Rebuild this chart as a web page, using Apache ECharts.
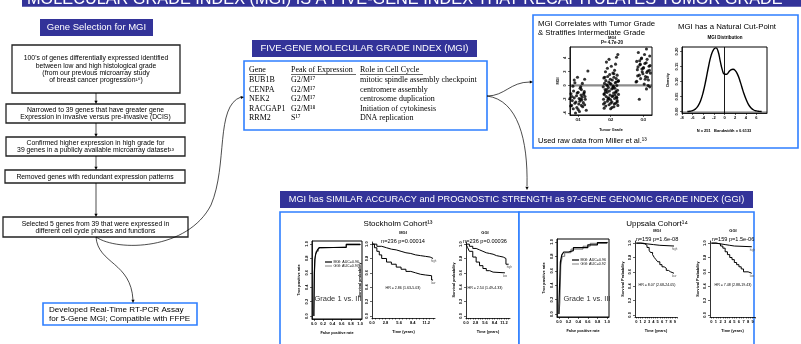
<!DOCTYPE html>
<html>
<head>
<meta charset="utf-8">
<script src="https://cdn.jsdelivr.net/npm/echarts@6/dist/echarts.min.js"></script>
<style>
html, body { margin: 0; padding: 0; background: #fff; }
#chart { width: 801px; height: 344px; }
</style>
</head>
<body>
<div id="chart"></div>
<script>
const FONT = '"Liberation Sans", Arial, sans-serif';
const SERIF = '"Liberation Serif", "Times New Roman", serif';
const NAVY = '#333399';
const BLUE = '#2f7fff';

// MGI by tumor grade: [jitter, MGI]
const gradeLabels = ['G1', 'G2', 'G3'];
const mgiG1 = [
    [-0.12,-1.8],[0.05,-2.3],[0.18,-1.1],[-0.2,-2.9],[0.1,-0.6],[-0.05,-1.5],[0.22,-2.0],[-0.15,-3.4],[0.02,-2.7],[0.14,-3.1],
    [-0.22,-1.2],[0.08,-0.2],[-0.1,0.4],[0.2,0.9],[-0.02,1.2],[0.12,-1.7],[-0.18,-2.2],[0.04,-3.8],[0.25,-3.6],[-0.08,-4.0],
    [0.16,-2.5],[-0.25,-1.9],[0.0,-1.0],[0.09,-1.4],[-0.14,-0.8],[0.2,-2.8],[-0.04,-3.2],[0.11,-2.1],[-0.19,-1.6],[0.06,-0.4],
    [0.3,2.1],[-0.1,-2.6],[0.17,-1.3],[-0.23,-3.0],[0.03,-1.9],[0.13,0.3],[-0.07,-2.4],[0.21,-1.6],[-0.16,-0.1],[0.0,-3.5],
    [0.1,-2.9],[-0.12,0.8],[0.19,-0.9],[-0.03,-1.1],[0.07,-2.0]
];
const mgiG2 = [
    [-0.2,-3.3],[0.1,-3.1],[0.22,-2.9],[-0.05,-2.8],[0.15,-2.6],[-0.18,-2.5],[0.04,-2.4],[-0.1,-2.3],[0.2,-2.2],[0.0,-2.1],
    [-0.22,-2.0],[0.12,-1.9],[-0.08,-1.8],[0.18,-1.7],[-0.14,-1.6],[0.06,-1.5],[-0.02,-1.4],[0.24,-1.3],[-0.2,-1.2],[0.09,-1.1],
    [-0.11,-1.0],[0.16,-0.9],[-0.04,-0.8],[0.21,-0.7],[-0.17,-0.6],[0.03,-0.5],[0.13,-0.4],[-0.07,-0.3],[-0.23,-0.2],[0.08,-0.1],
    [0.19,0.0],[-0.12,0.1],[0.01,0.2],[-0.19,0.3],[0.14,0.4],[-0.06,0.5],[0.23,0.6],[-0.15,0.7],[0.05,0.8],[-0.01,0.9],
    [0.17,1.0],[-0.21,1.1],[0.1,1.2],[-0.09,1.3],[0.2,1.5],[-0.03,1.6],[0.07,1.8],[-0.16,2.0],[0.12,2.2],[-0.1,2.5],
    [0.02,2.8],[0.15,3.1],[-0.13,3.4],[0.18,4.1],[0.22,4.5],[-0.05,3.8],[0.0,-3.4],[-0.15,-3.0],[0.11,-2.7],[0.2,-2.4],
    [-0.08,-2.0],[0.05,-1.6],[-0.2,-1.3],[0.16,-1.0],[-0.12,-0.6],[0.08,-0.2],[-0.02,0.3],[0.24,0.7],[-0.18,1.2],[0.1,1.7],
    [0.0,-2.6],[-0.05,-1.9],[0.13,-1.4],[-0.16,-0.9],[0.07,-0.4],[-0.1,0.0],[0.17,0.5],[-0.22,-2.7],[0.04,-3.2],[0.19,-1.8]
];
const mgiG3 = [
    [0.1,5.3],[-0.15,4.8],[0.2,4.3],[-0.05,4.0],[0.12,3.8],[-0.2,3.5],[0.05,3.2],[-0.1,3.0],[0.18,2.8],[0.0,2.5],
    [-0.18,2.3],[0.14,2.1],[-0.03,2.0],[0.22,1.8],[-0.12,1.5],[0.07,1.3],[-0.08,1.0],[0.16,0.8],[-0.22,0.5],[0.03,0.2],
    [0.2,-0.2],[0.1,-0.5],[-0.12,-2.0],[-0.06,3.9],[0.09,3.3],[-0.16,2.7],[0.19,2.2],[-0.01,1.7],[0.13,1.2],[-0.2,0.6],
    [0.04,4.5],[-0.11,3.6],[0.21,2.9],[-0.04,2.4],[0.11,1.9],[-0.17,1.4],[0.06,0.9],[0.15,0.0],[-0.09,3.1],[0.01,2.6]
];
const mgiCutLine = [[0.75, 0], [3.27, 0]];

// MGI distribution (density)
const densityCurve = [
    [-7,0],[-6.5,0.001],[-6,0.003],[-5.5,0.008],[-5,0.018],[-4.5,0.036],[-4,0.065],[-3.5,0.105],[-3,0.15],[-2.5,0.188],
    [-2,0.208],[-1.6,0.212],[-1.2,0.2],[-0.8,0.168],[-0.4,0.138],[0,0.124],[0.4,0.124],[0.8,0.132],[1.2,0.139],[1.6,0.141],
    [2,0.137],[2.5,0.122],[3,0.097],[3.5,0.068],[4,0.043],[4.5,0.024],[5,0.012],[5.5,0.005],[6,0.002],[6.5,0.0005],[7,0]
];
const densityCutLine = [[0, -0.005], [0, 0.215]];
const densityBaseLine = [[-8, 0], [8, 0]];
const densityTicks = [-8, -6, -4, -2, 0, 2, 4, 6];
const densityYTicks = [0, 0.05, 0.1, 0.15, 0.2];

// ROC curves [false positive rate, true positive rate]
const rocStockMGI = [[0,0],[0,0.05],[0.01,0.05],[0.01,0.55],[0.02,0.55],[0.02,0.78],[0.04,0.78],[0.04,0.86],[0.08,0.86],[0.08,0.92],[0.12,0.92],[0.12,0.95],[0.7,0.95],[0.7,0.99],[1,0.99],[1,1]];
const rocStockGGI = [[0,0],[0.01,0],[0.01,0.6],[0.03,0.6],[0.03,0.82],[0.05,0.82],[0.05,0.9],[0.1,0.9],[0.1,0.94],[0.15,0.94],[0.15,0.96],[0.7,0.96],[0.7,1],[1,1]];
const rocUppMGI = [[0,0],[0,0.12],[0.03,0.12],[0.03,0.72],[0.06,0.72],[0.06,0.82],[0.1,0.82],[0.1,0.86],[0.2,0.86],[0.2,0.88],[0.3,0.88],[0.3,0.92],[0.6,0.92],[0.6,0.96],[0.8,0.96],[0.8,0.99],[1,0.99],[1,1]];
const rocUppGGI = [[0,0],[0.02,0],[0.02,0.15],[0.04,0.15],[0.04,0.68],[0.07,0.68],[0.07,0.8],[0.12,0.8],[0.12,0.85],[0.25,0.85],[0.25,0.9],[0.5,0.9],[0.5,0.94],[0.65,0.94],[0.65,0.98],[1,0.98],[1,1]];
const rocTicks = [0, 0.2, 0.4, 0.6, 0.8, 1];

// Kaplan-Meier curves [years, survival probability]
const kmStockMgiHigh = [[0,1],[1,0.97],[2,0.95],[3,0.93],[4,0.92],[5,0.9],[6,0.88],[7,0.87],[8,0.85],[9,0.84],[10,0.83],[11,0.82],[12,0.8],[12.6,0.8]];
const kmStockMgiLow = [[0,1],[0.5,0.95],[1,0.9],[1.5,0.85],[2,0.8],[3,0.75],[4,0.72],[5,0.68],[6,0.65],[7,0.62],[8,0.6],[9,0.58],[10,0.57],[11,0.56],[12.3,0.5],[12.6,0.5]];
const kmStockGgiHigh = [[0,1],[1,0.97],[2,0.94],[3,0.92],[4,0.9],[5,0.88],[6,0.87],[7,0.86],[8,0.84],[9,0.83],[10,0.82],[11,0.8],[11.8,0.72],[12.6,0.72]];
const kmStockGgiLow = [[0,1],[0.5,0.95],[1,0.9],[2,0.82],[3,0.75],[4,0.7],[5,0.66],[6,0.63],[7,0.61],[8,0.6],[11.5,0.6]];
const kmUppMgiHigh = [[0,1],[1.5,0.99],[2.5,0.98],[4,0.97],[5.5,0.96],[8.8,0.96]];
const kmUppMgiLow = [[0,1],[1,0.99],[2,0.97],[2.5,0.94],[3,0.9],[3.3,0.87],[3.8,0.84],[4.2,0.8],[4.6,0.77],[5,0.74],[5.5,0.7],[6,0.67],[6.5,0.65],[7,0.62],[7.5,0.6],[8,0.58],[8.8,0.58]];
const kmUppGgiHigh = [[0,1],[1,0.99],[2,0.98],[3,0.97],[4,0.96],[5,0.95],[8.8,0.95]];
const kmUppGgiLow = [[0,1],[1,0.99],[2,0.96],[2.5,0.93],[3,0.88],[3.5,0.84],[4,0.8],[4.5,0.77],[5,0.73],[5.5,0.7],[6,0.67],[6.5,0.64],[7,0.6],[8,0.58],[8.8,0.58]];
const stockTimeTicks = [0, 2.8, 5.6, 8.4, 11.2];
const uppTimeTicks = [0, 1, 2, 3, 4, 5, 6, 7, 8, 9];
const survTicks = [0, 0.2, 0.4, 0.6, 0.8, 1];

// five-gene table
const tableGenes = ['BUB1B', 'CENPA', 'NEK2', 'RACGAP1', 'RRM2'];
const tablePeaks = ['G2/M¹⁷', 'G2/M¹⁷', 'G2/M¹⁷', 'G2/M¹⁸', 'S¹⁷'];
const tableRoles = ['mitotic spindle assembly checkpoint', 'centromere assembly', 'centrosome duplication', 'Initiation of cytokinesis', 'DNA replication'];

// ---------- graphic helpers ----------
function txt(x, y, text, size, o) {
    o = o || {};
    const a = o.align || 'left';
    const va = o.va || 'middle';
    return {
        type: 'text', x: x, y: y, z: 20, rotation: o.rot || 0,
        style: {
            text: text, fontSize: size, fontFamily: o.family || FONT,
            fontWeight: o.weight || 'normal', fill: o.color || '#000',
            align: a, textAlign: a, verticalAlign: va, textVerticalAlign: va,
            lineHeight: o.lh || size * 1.1
        }
    };
}
function rect(x, y, w, h, fill, stroke, lw) {
    return {type: 'rect', z: -5, shape: {x: x, y: y, width: w, height: h},
        style: {fill: fill, stroke: stroke || null, lineWidth: lw || 0}};
}
function seg(x1, y1, x2, y2, color, lw) {
    return {type: 'line', z: 5, shape: {x1: x1, y1: y1, x2: x2, y2: y2},
        style: {stroke: color || '#000', lineWidth: lw || 0.8}};
}
function curve(p) {
    return {type: 'bezierCurve', z: 5,
        shape: {x1: p[0], y1: p[1], cpx1: p[2], cpy1: p[3], cpx2: p[4], cpy2: p[5], x2: p[6], y2: p[7]},
        style: {stroke: '#000', fill: null, lineWidth: 0.7}};
}
function head(x, y, ang) {
    const s = 3.2, w = 1.6;
    const c = Math.cos(ang), si = Math.sin(ang);
    const bx = x - c * s, by = y - si * s;
    return {type: 'polygon', z: 6,
        shape: {points: [[x, y], [bx - si * w, by + c * w], [bx + si * w, by - c * w]]},
        style: {fill: '#000'}};
}

const g = [];
// title bar (cut off at the top)
g.push(rect(22, -4, 779, 10.7, NAVY));
g.push(txt(27, 0, 'MOLECULAR GRADE INDEX (MGI) IS A FIVE-GENE INDEX THAT RECAPITULATES TUMOR GRADE', 16.3, {color: '#fff'}));

// gene selection flow
g.push(rect(40, 19, 113, 17, NAVY));
g.push(txt(96.5, 27.5, 'Gene Selection for MGI', 9.5, {align: 'center', color: '#fff'}));
const flowBoxes = [
    [12, 45, 168, 48, "100's of genes differentially expressed identified\nbetween low and high histological grade\n(from our previous microarray study\nof breast cancer progression¹⁶)"],
    [6, 104, 179, 19, 'Narrowed to 39 genes that have greater gene\nExpression in invasive versus pre-invasive (DCIS)'],
    [6, 137, 179, 19, 'Confirmed higher expression in high grade for\n39 genes in a publicly available microarray dataset¹³'],
    [5, 170, 180, 13, 'Removed genes with redundant expression patterns'],
    [3, 217, 185, 20, 'Selected 5 genes from 39 that were expressed in\ndifferent cell cycle phases and functions']
];
flowBoxes.forEach(function (b) {
    g.push(rect(b[0], b[1], b[2], b[3], '#fff', '#222', 1.3));
    g.push(txt(b[0] + b[2] / 2, b[1] + b[3] / 2 + 0.3, b[4], 6.8, {align: 'center', lh: 7.3}));
});
[[93, 104], [123, 137], [156, 170], [183, 217]].forEach(function (s) {
    g.push(seg(96, s[0], 96, s[1] - 2, '#000', 0.7));
    g.push(head(96, s[1], Math.PI / 2));
});
g.push(curve([96, 237, 98, 264, 131, 262, 133, 300]));
g.push(head(133, 303, Math.PI / 2));
g.push(curve([96, 237, 118, 252, 188, 250, 211, 205]));
g.push(curve([211, 205, 228, 165, 215, 106, 241, 97]));
g.push(head(244, 97, -0.15));
g.push(rect(43, 303, 154, 22, '#fff', BLUE, 1.6));
g.push(txt(49, 314.5, 'Developed Real-Time RT-PCR Assay\nfor 5-Gene MGI; Compatible with FFPE', 8.1, {lh: 9}));

// five-gene table
g.push(rect(252, 40, 225, 17, NAVY));
g.push(txt(364.5, 48.5, 'FIVE-GENE MOLECULAR GRADE INDEX (MGI)', 9.5, {align: 'center', color: '#fff'}));
g.push(rect(244, 61, 243, 69, '#fff', BLUE, 1.6));
const colX = [249, 291, 360];
g.push(txt(colX[0], 70, 'Gene', 8, {family: SERIF}));
g.push(txt(colX[1], 70, 'Peak of Expression', 8, {family: SERIF}));
g.push(txt(colX[2], 70, 'Role in Cell Cycle', 8, {family: SERIF}));
g.push(seg(249, 74.5, 266, 74.5, '#000', 0.6));
g.push(seg(291, 74.5, 356, 74.5, '#000', 0.6));
g.push(seg(360, 74.5, 423, 74.5, '#000', 0.6));
tableGenes.forEach(function (gene, i) {
    const y = 80 + i * 9.6;
    g.push(txt(colX[0], y, gene, 8, {family: SERIF}));
    g.push(txt(colX[1], y, tablePeaks[i], 8, {family: SERIF}));
    g.push(txt(colX[2], y, tableRoles[i], 8, {family: SERIF}));
});
g.push(curve([487, 96, 505, 96, 510, 82, 530, 82]));
g.push(head(533, 82, 0));
g.push(curve([487, 96, 518, 100, 528, 140, 527, 186]));
g.push(head(527, 190, Math.PI / 2));

// MGI vs grade box
g.push(rect(533, 15, 265, 133, '#fff', BLUE, 1.6));
g.push(txt(538, 24, 'MGI Correlates with Tumor Grade', 7.8));
g.push(txt(538, 33, '& Stratifies Intermediate Grade', 7.8));
g.push(txt(612, 37.5, 'MGI', 4.2, {align: 'center', weight: 'bold'}));
g.push(txt(612, 43, 'P= 4.7e-20', 4.5, {align: 'center', weight: 'bold'}));
g.push(txt(727, 27, 'MGI has a Natural Cut-Point', 7.8, {align: 'center'}));
g.push(txt(725, 38, 'MGI Distribution', 4.5, {align: 'center', weight: 'bold'}));
g.push(txt(724, 131, 'N = 251   Bandwidth = 0.6133', 4, {align: 'center', weight: 'bold'}));
g.push(txt(538, 141, 'Used raw data from Miller et al.¹³', 7.5));

// bottom section
g.push(rect(280, 191, 473, 17, NAVY));
g.push(txt(516.5, 199.5, 'MGI has SIMILAR ACCURACY and PROGNOSTIC STRENGTH as 97-GENE GENOMIC GRADE INDEX (GGI)', 9.2, {align: 'center', color: '#fff'}));
g.push(rect(280, 212, 239, 150, '#fff', BLUE, 1.6));
g.push(rect(519, 212, 235, 150, '#fff', BLUE, 1.6));
g.push(txt(398, 224, 'Stockholm Cohort¹³', 8, {align: 'center'}));
g.push(txt(657, 224, 'Uppsala Cohort¹⁴', 8, {align: 'center'}));
g.push(txt(338, 299, 'Grade 1 vs. III', 7.5, {align: 'center', color: '#333'}));
g.push(txt(587, 299, 'Grade 1 vs. III', 7.5, {align: 'center', color: '#333'}));
// ROC legends
[[325, 262, 'MGI: AUC=0.96', 'GGI: AUC=0.97'], [572, 260, 'MGI: AUC=0.96', 'GGI: AUC=0.92']].forEach(function (l) {
    g.push(seg(l[0], l[1], l[0] + 7, l[1], '#000', 1.2));
    g.push(seg(l[0], l[1] + 4, l[0] + 7, l[1] + 4, '#666', 0.8));
    g.push(txt(l[0] + 8.5, l[1], l[2], 3.6));
    g.push(txt(l[0] + 8.5, l[1] + 4, l[3], 3.6));
});
// KM headers
[[403, 'MGI', 'n=236 p=0.00014', 'HR = 2.86 (1.63-5.03)', 288],
 [485, 'GGI', 'n=236 p=0.00036', 'HR = 2.54 (1.49-4.33)', 288],
 [657, 'MGI', 'n=159 p=1.6e-08', 'HR = 8.07 (2.68-24.05)', 285],
 [733, 'GGI', 'n=159 p=1.5e-06', 'HR = 7.48 (2.88-19.43)', 285]].forEach(function (k, i) {
    const top = i < 2 ? 233 : 231;
    g.push(txt(k[0], top, k[1], 4, {align: 'center', weight: 'bold'}));
    g.push(txt(k[0], top + 8.5, k[2], 5.6, {align: 'center'}));
    g.push(txt(k[0], k[4], k[3], 3.6, {align: 'center'}));
});

// ---------- axes ----------
const tiny = {fontSize: 4, fontFamily: FONT, fontWeight: 'bold', color: '#000'};
const blackLine = {show: true, onZero: false, lineStyle: {color: '#000', width: 0.8}};
function xAx(gi, min, max, ticks, fmt, name, gap) {
    return {
        gridIndex: gi, type: 'value', min: min, max: max, z: 4,
        axisLine: blackLine,
        axisTick: {show: true, customValues: ticks, length: 2, lineStyle: {color: '#000', width: 0.6}},
        axisLabel: Object.assign({customValues: ticks, formatter: fmt, margin: 3}, tiny),
        splitLine: {show: false},
        name: name, nameLocation: 'middle', nameGap: gap || 11,
        nameTextStyle: {fontSize: 3.8, fontFamily: FONT, fontWeight: 'bold', color: '#000'}
    };
}
function yAx(gi, min, max, ticks, fmt, name, gap) {
    return {
        gridIndex: gi, type: 'value', min: min, max: max, z: 4,
        axisLine: blackLine,
        axisTick: {show: true, customValues: ticks, length: 2, lineStyle: {color: '#000', width: 0.6}},
        axisLabel: Object.assign({customValues: ticks, formatter: fmt, rotate: 90, margin: 3}, tiny),
        splitLine: {show: false},
        name: name, nameLocation: 'middle', nameGap: gap || 9, nameRotate: 90,
        nameTextStyle: {fontSize: 3.8, fontFamily: FONT, fontWeight: 'bold', color: '#000'}
    };
}
const f1 = function (v) { return (+v).toFixed(1); };
const f2 = function (v) { return (+v).toFixed(2); };
const fInt = function (v) { return String(Math.round(v)); };
const frame = {show: true, borderColor: '#000', borderWidth: 1, backgroundColor: 'transparent', z: 4};

const grids = [
    Object.assign({left: 570, top: 47, width: 82, height: 68}, frame),   // scatter
    Object.assign({left: 682, top: 47, width: 85, height: 66}, frame),   // density
    Object.assign({left: 312, top: 241, width: 50, height: 78}, frame),  // ROC Stockholm
    {left: 372, top: 242, width: 63, height: 76},                        // KM Stockholm MGI
    {left: 466, top: 242, width: 44, height: 76},                        // KM Stockholm GGI
    Object.assign({left: 557, top: 239, width: 52, height: 78}, frame),  // ROC Uppsala
    {left: 635, top: 241, width: 42, height: 76},                        // KM Uppsala MGI
    {left: 710, top: 241, width: 45, height: 76}                         // KM Uppsala GGI
];

const xAxes = [
    xAx(0, 0.75, 3.27, [1, 2, 3], function (v) { return gradeLabels[Math.round(v) - 1]; }, 'Tumor Grade', 13),
    xAx(1, -8, 8, densityTicks, fInt, '', 10),
    xAx(2, -0.04, 1.04, rocTicks, f1, 'False positive rate', 12),
    xAx(3, 0, 13, stockTimeTicks, f1, 'Time (years)', 12),
    xAx(4, 0, 13, stockTimeTicks, f1, 'Time (years)', 12),
    xAx(5, -0.04, 1.04, rocTicks, f1, 'False positive rate', 12),
    xAx(6, -0.3, 9.5, uppTimeTicks, fInt, 'Time (years)', 12),
    xAx(7, -0.3, 9.5, uppTimeTicks, fInt, 'Time (years)', 12)
];
const yAxes = [
    yAx(0, -4.3, 5.6, [-4, -2, 0, 2, 4], fInt, 'MGI', 10),
    yAx(1, -0.005, 0.215, densityYTicks, f2, 'Density', 12),
    yAx(2, -0.04, 1.04, rocTicks, f1, 'True positive rate', 11),
    yAx(3, -0.03, 1.03, survTicks, f1, 'Survival probability', 10),
    yAx(4, -0.03, 1.03, survTicks, f1, 'Survival probability', 10),
    yAx(5, -0.04, 1.04, rocTicks, f1, 'True positive rate', 11),
    yAx(6, -0.03, 1.03, survTicks, f1, 'Survival Probability', 10),
    yAx(7, -0.03, 1.03, survTicks, f1, 'Survival Probability', 10)
];
// dense minor ticks on survival time axes
[3, 4, 6, 7].forEach(function (i) {
    const ax = xAxes[i], t = [];
    for (let v = 0; v <= ax.max; v += (i < 5 ? 0.7 : 0.5)) t.push(+v.toFixed(2));
    ax.axisTick.customValues = t;
    ax.axisTick.length = 1.5;
});

// ---------- series ----------
function points(list, grade) {
    return list.map(function (p) { return [grade + p[0], p[1]]; });
}
function refLine(xi, data, color, width, z) {
    return {type: 'line', xAxisIndex: xi, yAxisIndex: xi, data: data, showSymbol: false, silent: true,
        z: z, lineStyle: {color: color, width: width}};
}
const series = [];
series.push(refLine(0, mgiCutLine, '#8c8c8c', 2.2, 3));
[mgiG1, mgiG2, mgiG3].forEach(function (list, i) {
    series.push({
        type: 'scatter', xAxisIndex: 0, yAxisIndex: 0, symbolSize: 3.1,
        itemStyle: {color: '#000'}, data: points(list, i + 1), z: 6
    });
});
series.push(refLine(1, densityBaseLine, '#bbb', 1.2, 3));
series.push(refLine(1, densityCutLine, '#000', 0.9, 4));
series.push({
    type: 'line', xAxisIndex: 1, yAxisIndex: 1, data: densityCurve, smooth: true, z: 6,
    showSymbol: false, lineStyle: {color: '#000', width: 1.4}
});
function roc(xi, data, color, width) {
    return {type: 'line', xAxisIndex: xi, yAxisIndex: xi, data: data, showSymbol: false, z: 6,
        lineStyle: {color: color, width: width}};
}
series.push(roc(2, rocStockGGI, '#666', 0.9), roc(2, rocStockMGI, '#000', 1.2));
series.push(roc(5, rocUppGGI, '#666', 0.9), roc(5, rocUppMGI, '#000', 1.2));
function km(xi, data, tag) {
    return {type: 'line', xAxisIndex: xi, yAxisIndex: xi, data: data, step: 'end', showSymbol: false, z: 6,
        lineStyle: {color: '#000', width: 1},
        endLabel: {show: true, formatter: tag, fontSize: 2.8, color: '#555', fontFamily: FONT, distance: 1, offset: [-3, 3]}};
}
series.push(km(3, kmStockMgiHigh, 'high'), km(3, kmStockMgiLow, 'low'));
series.push(km(4, kmStockGgiHigh, 'high'), km(4, kmStockGgiLow, 'low'));
series.push(km(6, kmUppMgiHigh, 'high'), km(6, kmUppMgiLow, 'low'));
series.push(km(7, kmUppGgiHigh, 'high'), km(7, kmUppGgiLow, 'low'));

const chart = echarts.init(document.getElementById('chart'), null, {renderer: 'canvas'});
chart.setOption({
    backgroundColor: '#fff',
    animation: false,
    textStyle: {fontFamily: FONT},
    grid: grids,
    xAxis: xAxes,
    yAxis: yAxes,
    series: series,
    graphic: {elements: g}
});
</script>
</body>
</html>
